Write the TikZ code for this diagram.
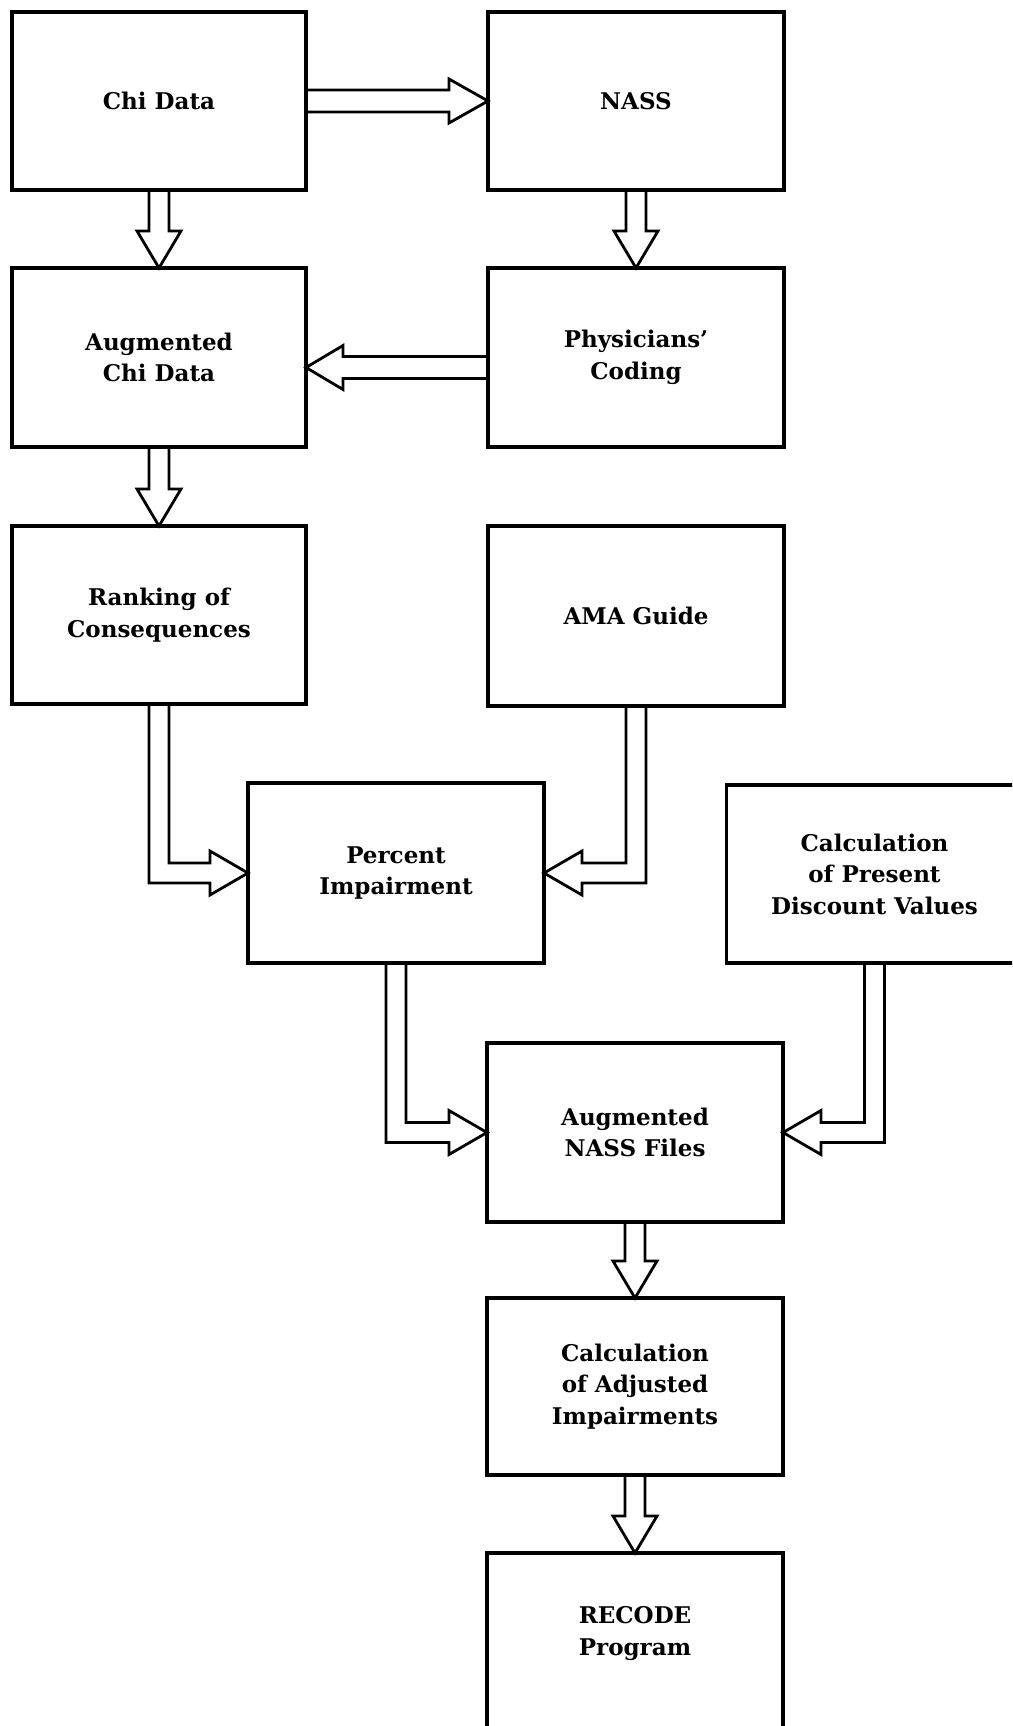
\documentclass[tikz,border=0pt]{standalone}
\usepackage{fontspec}
\setmainfont{DejaVu Serif}
\usetikzlibrary{calc}
\newcommand{\downfat}[2]{\draw[fat] ($(#1)+(-10,0)$) -- ($(#2)+(-10,-37)$) -- ++(-12,0) -- (#2) -- ++(22,-37) -- ++(-12,0) -- ($(#1)+(10,0)$);}
\newcommand{\rightfat}[2]{\draw[fat] ($(#1)+(0,-11)$) -- ($(#2)+(-39,-11)$) -- ++(0,-11) -- (#2) -- ++(-39,22) -- ++(0,-11) -- ($(#1)+(0,11)$);}
\newcommand{\leftfat}[2]{\draw[fat] ($(#1)+(0,-11)$) -- ($(#2)+(37,-11)$) -- ++(0,-11) -- (#2) -- ++(37,22) -- ++(0,-11) -- ($(#1)+(0,11)$);}
\newcommand{\elbowright}[2]{\draw[fat] ($(#1)+(-10,0)$) -- ($(#1 |- #2)+(-10,10)$) -- ($(#2)+(-38,10)$) -- ++(0,12) -- (#2) -- ++(-38,-22) -- ++(0,12) -- ($(#1 |- #2)+(10,-10)$) -- ($(#1)+(10,0)$);}
\newcommand{\elbowleft}[2]{\draw[fat] ($(#1)+(10,0)$) -- ($(#1 |- #2)+(10,10)$) -- ($(#2)+(38,10)$) -- ++(0,12) -- (#2) -- ++(38,-22) -- ++(0,12) -- ($(#1 |- #2)+(-10,-10)$) -- ($(#1)+(-10,0)$);}
\begin{document}
\begin{tikzpicture}[x=1pt,y=-1pt,
  box/.style={draw, line width=3.4pt, inner sep=0pt, outer sep=0pt,
    minimum width=296pt, minimum height=178pt, align=center,
    font=\fontsize{23}{31.5}\selectfont\bfseries},
  fat/.style={draw, line width=2.8pt, line join=miter, line cap=butt}]
\clip (0,0) rectangle (1012,1726);
\fill[white] (0,0) rectangle (1012,1726);
% boxes
\node[box, minimum width=294pt] (chi) at (159,101) {Chi Data};
\node[box] (nass) at (636,101) {NASS};
\node[box, minimum width=294pt, minimum height=179pt] (augchi) at (159,357.5) {Augmented\\Chi Data};
\node[box, minimum height=179pt] (phys) at (636,357.5) {Physicians’\\Coding};
\node[box, minimum width=294pt] (rank) at (159,615) {Ranking of\\Consequences};
\node[box, minimum height=180pt] (ama) at (636,616) {AMA Guide};
\node[box, minimum height=180pt] (pct) at (396,873) {Percent\\Impairment};
\node[box] (calcp) at (874.5,874) {Calculation\\of Present\\Discount Values};
\node[box, minimum height=179pt] (augnass) at (635,1132.5) {Augmented\\NASS Files};
\node[box, minimum height=177pt] (calcadj) at (635,1386.5) {Calculation\\of Adjusted\\Impairments};
\node[box] (recode) at (635,1642) {\raisebox{9pt}[\height][\depth]{\begin{tabular}{@{}c@{}}RECODE\\Program\end{tabular}}};
% connectors
\rightfat{chi.east}{nass.west}
\downfat{chi.south}{augchi.north}
\downfat{nass.south}{phys.north}
\coordinate (physW) at ($(phys.west)+(0,10)$);
\coordinate (augchiE) at ($(augchi.east)+(0,10)$);
\leftfat{physW}{augchiE}
\downfat{augchi.south}{rank.north}
\elbowright{rank.south}{pct.west}
\elbowleft{ama.south}{pct.east}
\elbowright{pct.south}{augnass.west}
\elbowleft{calcp.south}{augnass.east}
\downfat{augnass.south}{calcadj.north}
\downfat{calcadj.south}{recode.north}
\end{tikzpicture}
\end{document}
